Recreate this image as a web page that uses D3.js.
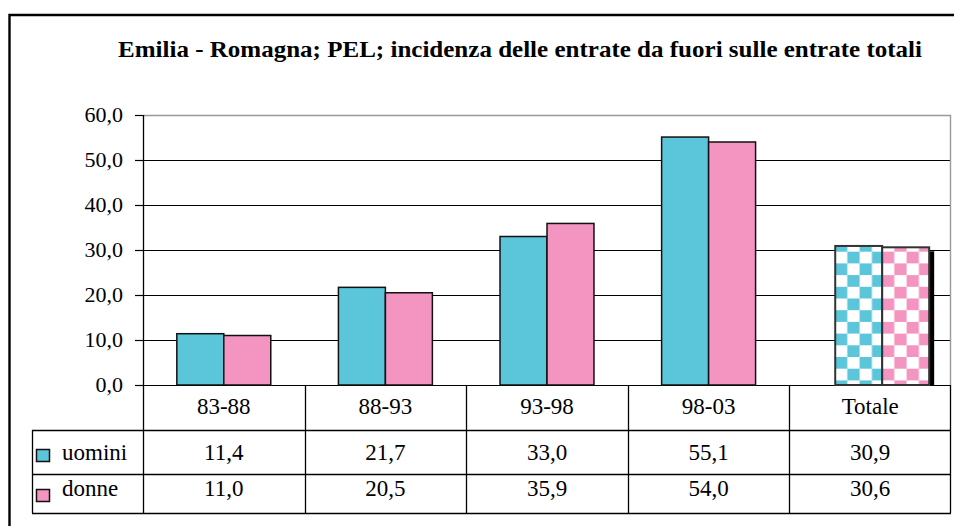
<!DOCTYPE html>
<html><head><meta charset="utf-8">
<script src="https://cdn.jsdelivr.net/npm/d3@7"></script>
<style>body{margin:0;background:#fff}</style>
</head><body>
<svg id="chart" width="954" height="526" style="font-family:Tinos, 'Liberation Serif', serif"></svg>
<script>
// Data
const categories = ["83-88", "88-93", "93-98", "98-03", "Totale"];
const seriesNames = ["uomini", "donne"];
const uomini = [11.4, 21.7, 33.0, 55.1, 30.9];
const donne = [11.0, 20.5, 35.9, 54.0, 30.6];
const yTicks = [0, 10, 20, 30, 40, 50, 60];
const title = "Emilia - Romagna; PEL; incidenza delle entrate da fuori sulle entrate totali";

const colors = { uomini: "#5bc6d9", donne: "#f395c0" };
const serif = '"Tinos"';
const fmt = v => d3.format(".1f")(v).replace(".", ",");

const svg = d3.select("#chart");
const defs = svg.append("defs");

// Layout
const plotL = 143, plotR = 951, plotT = 115, plotB = 385;
const tableL = 32;
const rowLines = [430, 474, 513];
const totalShift = 12;

const x = d3.scaleBand().domain(categories).range([plotL, plotR]);
const xs = d3.scaleBand().domain(seriesNames).range([0, x.bandwidth()]).paddingOuter(0.72);
const y = d3.scaleLinear().domain([0, 60]).range([plotB, plotT]);

// Checkerboard fills for the totals
function checker(id, color, ox, oy, firstFilled) {
  const cw = 12.3, ch = 11.7;
  const p = defs.append("pattern").attr("id", id)
    .attr("patternUnits", "userSpaceOnUse")
    .attr("x", ox).attr("y", oy).attr("width", cw * 2).attr("height", ch * 2);
  p.append("rect").attr("width", cw * 2).attr("height", ch * 2).attr("fill", "#fff");
  const cells = firstFilled ? [[0, 0], [cw, ch]] : [[cw, 0], [0, ch]];
  cells.forEach(([cx, cy]) => p.append("rect").attr("x", cx).attr("y", cy)
    .attr("width", cw).attr("height", ch).attr("fill", color));
}
checker("chk-uomini", colors.uomini, 835, 251.7, false);
checker("chk-donne", colors.donne, 882, 251.7, true);

// Outer frame
svg.append("path").attr("d", "M9.5,526V15H954")
  .attr("fill", "none").attr("stroke", "#000").attr("stroke-width", 2.4);

// Title, stretched to span 118..922
svg.append("text").attr("x", 118).attr("y", 57)
  .style("font-family", serif).style("font-weight", "bold").style("font-size", "23px")
  .attr("textLength", 804).attr("lengthAdjust", "spacingAndGlyphs")
  .attr("fill", "#000").text(title);

// Gridlines and ticks
yTicks.forEach(v => {
  const yy = Math.round(y(v)) + 0.5;
  svg.append("line").attr("x1", 135).attr("x2", plotL).attr("y1", yy).attr("y2", yy)
    .attr("stroke", "#000").attr("stroke-width", 1.2);
  svg.append("line").attr("x1", plotL).attr("x2", plotR).attr("y1", yy).attr("y2", yy)
    .attr("stroke", v === 60 ? "#999" : "#000").attr("stroke-width", v === 60 ? 1.4 : 1.2);
  svg.append("text").attr("x", 123).attr("y", y(v)).attr("dy", "0.34em")
    .attr("text-anchor", "end").style("font-family", serif).style("font-size", "22px")
    .attr("fill", "#000").text(fmt(v));
});
svg.append("line").attr("x1", plotR - 0.5).attr("x2", plotR - 0.5).attr("y1", plotT).attr("y2", plotB)
  .attr("stroke", "#999").attr("stroke-width", 1.4);

// Bars
const rows = categories.map((c, i) => ({ cat: c, total: c === "Totale", values: { uomini: uomini[i], donne: donne[i] } }));
const g = svg.append("g");
rows.forEach(r => {
  const shift = r.total ? totalShift : 0;
  seriesNames.forEach(s => {
    const v = r.values[s];
    const bx = x(r.cat) + xs(s) + shift;
    if (r.total && s === "donne") {
      g.append("rect").attr("x", bx + xs.bandwidth()).attr("y", y(v) + 4)
        .attr("width", 5).attr("height", plotB - y(v) - 4).attr("fill", "#000");
    }
    g.append("rect").attr("x", bx).attr("y", y(v))
      .attr("width", xs.bandwidth()).attr("height", plotB - y(v))
      .attr("fill", r.total ? `url(#chk-${s})` : colors[s])
      .attr("stroke", r.total ? "#333" : "#111")
      .attr("stroke-width", r.total ? 2 : 1.5);
  });
});

// Axis line
svg.append("line").attr("x1", plotL + 0.5).attr("x2", plotL + 0.5).attr("y1", plotT).attr("y2", rowLines[2])
  .attr("stroke", "#000").attr("stroke-width", 1.3);

// Data table grid
rowLines.forEach(yy => svg.append("line").attr("x1", tableL).attr("x2", plotR)
  .attr("y1", yy + 0.5).attr("y2", yy + 0.5).attr("stroke", "#000").attr("stroke-width", 1.3));
svg.append("line").attr("x1", tableL + 0.5).attr("x2", tableL + 0.5).attr("y1", rowLines[0]).attr("y2", rowLines[2])
  .attr("stroke", "#000").attr("stroke-width", 1.3);
categories.forEach((c, i) => {
  if (i === 0) return;
  const xx = Math.round(x(c)) + 0.5;
  svg.append("line").attr("x1", xx).attr("x2", xx).attr("y1", plotB).attr("y2", rowLines[2])
    .attr("stroke", "#000").attr("stroke-width", 1.3);
});
svg.append("line").attr("x1", plotR - 0.5).attr("x2", plotR - 0.5).attr("y1", plotB).attr("y2", rowLines[2])
  .attr("stroke", "#000").attr("stroke-width", 1.3);

// Table text
const cellText = (xx, yy, s, anchor) => svg.append("text").attr("x", xx).attr("y", yy)
  .attr("text-anchor", anchor || "middle").style("font-family", serif).style("font-size", "23px")
  .attr("fill", "#000").text(s);
categories.forEach((c, i) => {
  const cx = x(c) + x.bandwidth() / 2;
  cellText(cx, 414, c);
  cellText(cx, 460, fmt(uomini[i]));
  cellText(cx, 496, fmt(donne[i]));
});

// Legend keys in the table
const keyRows = [{ s: "uomini", y: 449, ty: 460 }, { s: "donne", y: 489, ty: 496 }];
keyRows.forEach(k => {
  svg.append("rect").attr("x", 36.5).attr("y", k.y + 0.5).attr("width", 13).attr("height", 12)
    .attr("fill", colors[k.s]).attr("stroke", "#111").attr("stroke-width", 1.5);
  cellText(62, k.ty, k.s, "start");
});
</script>
</body></html>
